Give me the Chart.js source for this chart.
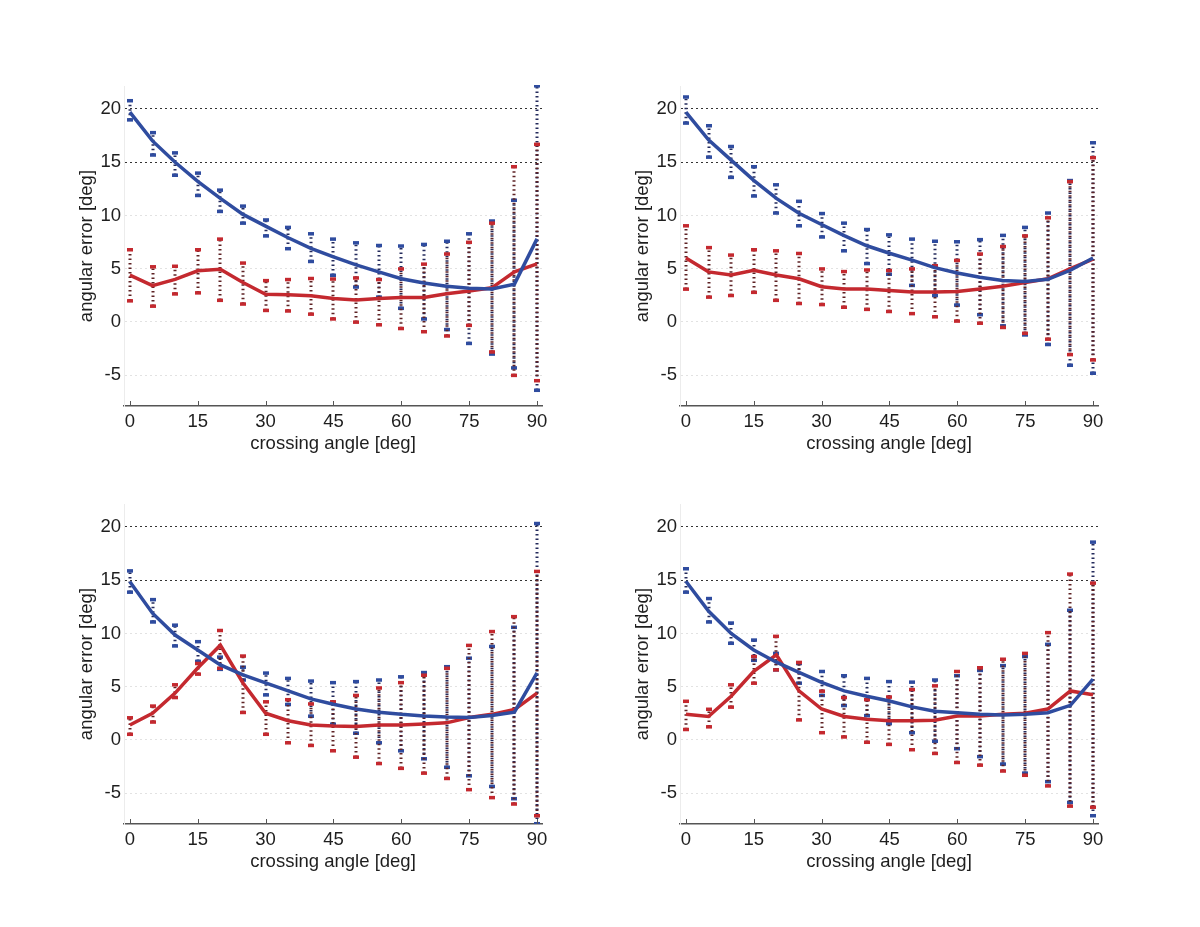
<!DOCTYPE html>
<html>
<head>
<meta charset="utf-8">
<script src="https://cdn.jsdelivr.net/npm/chart.js@4.4.0/dist/chart.umd.min.js"></script>
<style>
  body { margin: 0; background: #fff; width: 1200px; height: 927px; position: relative; overflow: hidden; }
  canvas { position: absolute; }
</style>
</head>
<body>
<canvas id="c1" width="478" height="383" style="left:76px;top:72px;width:478px;height:383px"></canvas>
<canvas id="c2" width="478" height="383" style="left:632px;top:72px;width:478px;height:383px"></canvas>
<canvas id="c3" width="478" height="383" style="left:76px;top:490px;width:478px;height:383px"></canvas>
<canvas id="c4" width="478" height="383" style="left:632px;top:490px;width:478px;height:383px"></canvas>
<script>
// crossing angles (deg) and tick labels
var angles = [0, 5, 10, 15, 20, 25, 30, 35, 40, 45, 50, 55, 60, 65, 70, 75, 80, 85, 90];
var xTicks = [0, 15, 30, 45, 60, 75, 90];
var yTicks = [-5, 0, 5, 10, 15, 20];

// top left
var p1BlueMean = [19.7, 17.0, 15.0, 13.2, 11.6, 10.1, 9.0, 7.9, 6.9, 6.1, 5.35, 4.7, 4.05, 3.65, 3.35, 3.15, 3.1, 3.55, 7.8];
var p1BlueHi   = [20.8, 17.8, 15.9, 14.0, 12.4, 10.9, 9.6, 8.9, 8.3, 7.8, 7.45, 7.2, 7.15, 7.3, 7.6, 8.3, 9.5, 11.45, 22.2];
var p1BlueLo   = [19.0, 15.7, 13.8, 11.9, 10.4, 9.3, 8.1, 6.9, 5.7, 4.4, 3.3, 2.35, 1.3, 0.3, -0.7, -2.0, -3.0, -4.3, -6.4];
var p1RedMean  = [4.4, 3.4, 4.0, 4.8, 4.95, 3.7, 2.6, 2.55, 2.45, 2.2, 2.05, 2.2, 2.3, 2.3, 2.65, 2.9, 3.2, 4.7, 5.45];
var p1RedHi    = [6.8, 5.2, 5.25, 6.8, 7.8, 5.55, 3.9, 4.0, 4.1, 4.05, 4.15, 4.0, 5.0, 5.45, 6.4, 7.5, 9.3, 14.6, 16.7];
var p1RedLo    = [2.0, 1.5, 2.65, 2.75, 2.05, 1.7, 1.1, 1.05, 0.75, 0.3, 0.0, -0.25, -0.6, -0.9, -1.3, -0.3, -2.8, -5.0, -5.5];

// top right
var p2BlueMean = [19.7, 17.1, 15.2, 13.3, 11.6, 10.2, 9.15, 8.1, 7.15, 6.45, 5.8, 5.1, 4.6, 4.2, 3.9, 3.8, 4.0, 4.85, 6.0];
var p2BlueHi   = [21.15, 18.45, 16.5, 14.6, 12.9, 11.35, 10.2, 9.3, 8.7, 8.2, 7.8, 7.6, 7.55, 7.75, 8.15, 8.9, 10.25, 13.3, 16.85];
var p2BlueLo   = [18.7, 15.5, 13.6, 11.85, 10.25, 9.05, 8.0, 6.7, 5.5, 4.5, 3.45, 2.5, 1.6, 0.7, -0.35, -1.2, -2.1, -4.05, -4.8];
var p2RedMean  = [6.0, 4.7, 4.4, 4.85, 4.4, 4.05, 3.3, 3.1, 3.1, 2.95, 2.8, 2.8, 2.85, 3.1, 3.35, 3.7, 4.05, 5.0, 5.9];
var p2RedHi    = [9.05, 7.0, 6.3, 6.8, 6.7, 6.45, 5.0, 4.75, 4.9, 4.85, 5.0, 5.3, 5.8, 6.4, 7.1, 8.1, 9.8, 13.2, 15.45];
var p2RedLo    = [3.1, 2.35, 2.5, 2.8, 2.05, 1.75, 1.65, 1.4, 1.2, 1.0, 0.8, 0.5, 0.1, -0.1, -0.5, -1.05, -1.6, -3.05, -3.55];

// bottom left
var p3BlueMean = [14.85, 11.9, 9.85, 8.45, 7.05, 6.1, 5.35, 4.6, 3.85, 3.35, 2.9, 2.6, 2.4, 2.25, 2.15, 2.1, 2.3, 2.6, 6.3];
var p3BlueHi   = [15.9, 13.2, 10.8, 9.25, 7.8, 6.85, 6.3, 5.8, 5.55, 5.4, 5.5, 5.65, 5.95, 6.35, 6.9, 7.7, 8.8, 10.6, 20.35];
var p3BlueLo   = [13.9, 11.1, 8.85, 7.4, 6.65, 5.65, 4.25, 3.35, 2.25, 1.5, 0.65, -0.25, -1.0, -1.75, -2.55, -3.35, -4.35, -5.5, -7.85];
var p3RedMean  = [1.4, 2.5, 4.4, 6.75, 8.9, 5.35, 2.5, 1.8, 1.4, 1.3, 1.25, 1.4, 1.4, 1.5, 1.6, 2.1, 2.4, 2.85, 4.4];
var p3RedHi    = [2.1, 3.2, 5.2, 7.2, 10.3, 7.9, 3.6, 3.8, 3.4, 3.6, 4.2, 4.9, 5.4, 6.1, 6.75, 8.9, 10.2, 11.6, 15.85];
var p3RedLo    = [0.55, 1.7, 4.0, 6.2, 6.75, 2.6, 0.55, -0.25, -0.5, -1.0, -1.6, -2.2, -2.65, -3.1, -3.6, -4.65, -5.4, -6.0, -7.1];

// bottom right
var p4BlueMean = [14.9, 12.1, 10.0, 8.45, 7.3, 6.35, 5.4, 4.6, 4.1, 3.65, 3.1, 2.7, 2.55, 2.4, 2.35, 2.4, 2.55, 3.25, 5.7];
var p4BlueHi   = [16.1, 13.3, 11.0, 9.4, 8.15, 7.2, 6.45, 6.05, 5.8, 5.5, 5.45, 5.65, 6.05, 6.55, 7.0, 7.85, 9.0, 12.2, 18.6];
var p4BlueLo   = [13.9, 11.1, 9.1, 7.5, 6.6, 5.35, 4.2, 3.25, 2.3, 1.55, 0.7, -0.1, -0.8, -1.55, -2.25, -3.1, -3.9, -5.85, -7.1];
var p4RedMean  = [2.4, 2.2, 4.1, 6.45, 8.0, 4.6, 2.9, 2.2, 1.95, 1.8, 1.8, 1.85, 2.25, 2.25, 2.4, 2.5, 2.9, 4.6, 4.25];
var p4RedHi    = [3.65, 2.9, 5.2, 7.85, 9.75, 7.3, 4.6, 4.0, 3.8, 4.05, 4.75, 5.1, 6.45, 6.8, 7.6, 8.15, 10.1, 15.6, 14.75];
var p4RedLo    = [1.0, 1.25, 3.1, 5.35, 6.6, 1.9, 0.7, 0.3, -0.2, -0.4, -0.9, -1.25, -2.1, -2.35, -2.9, -3.3, -4.3, -6.2, -6.3];

var BLUE = '#2f4c9f', RED = '#c4292f';
var FONT = { family: '"Liberation Sans", Arial, Helvetica, sans-serif', size: 18.5 };

// dotted range bars with small caps, plus inward ticks on the x axis
var errorBars = {
  id: 'errorBars',
  beforeDatasetsDraw: function (chart) {
    var ctx = chart.ctx, xs = chart.scales.x, ys = chart.scales.y, a = chart.chartArea;
    ctx.save();
    ctx.beginPath();
    ctx.rect(a.left, a.top - 1, a.right - a.left, a.bottom - a.top + 1);
    ctx.clip();
    chart.data.datasets.forEach(function (ds) {
      ds.lo.forEach(function (lo, i) {
        var px = Math.round(xs.getPixelForValue(angles[i]));
        var y1 = ys.getPixelForValue(lo), y2 = ys.getPixelForValue(ds.hi[i]);
        ctx.setLineDash([1.5, 3]);
        ctx.lineWidth = 3;
        ctx.strokeStyle = ds.barColor;
        ctx.beginPath();
        ctx.moveTo(px, y1);
        ctx.lineTo(px, y2);
        ctx.stroke();
        ctx.fillStyle = ds.borderColor;
        ctx.fillRect(px - 3, y1 - 1.5, 6, 3.5);
        ctx.fillRect(px - 3, y2 - 1.5, 6, 3.5);
      });
    });
    ctx.restore();

    ctx.save();
    ctx.strokeStyle = '#555';
    ctx.lineWidth = 1;
    xTicks.forEach(function (v) {
      var px = Math.round(xs.getPixelForValue(v)) + 0.5;
      ctx.beginPath();
      ctx.moveTo(px, a.bottom);
      ctx.lineTo(px, a.bottom - 5);
      ctx.stroke();
    });
    ctx.restore();
  }
};

function makePanel(id, blueMean, blueLo, blueHi, redMean, redLo, redHi) {
  function pts(arr) {
    return angles.map(function (x, i) { return { x: x, y: arr[i] }; });
  }
  return new Chart(document.getElementById(id), {
    type: 'line',
    data: {
      datasets: [
        { data: pts(blueMean), lo: blueLo, hi: blueHi, borderColor: BLUE, barColor: '#242b5c',
          borderWidth: 3.5, pointRadius: 0, tension: 0 },
        { data: pts(redMean), lo: redLo, hi: redHi, borderColor: RED, barColor: '#5e2224',
          borderWidth: 3.5, pointRadius: 0, tension: 0 }
      ]
    },
    options: {
      responsive: false,
      animation: false,
      layout: { padding: { top: 10, right: 12, left: 0, bottom: 0 } },
      plugins: { legend: { display: false }, tooltip: { enabled: false } },
      scales: {
        x: {
          type: 'linear', min: -1.3, max: 91.1,
          afterBuildTicks: function (s) { s.ticks = xTicks.map(function (v) { return { value: v }; }); },
          afterFit: function (s) { s.height = 49; },
          grid: { color: 'rgba(0,0,0,0)', drawTicks: false },
          border: { color: '#555', width: 1.5 },
          ticks: { font: FONT, color: '#1e1e1e', padding: 5, maxRotation: 0 },
          title: { display: true, text: 'crossing angle [deg]', font: FONT, color: '#1e1e1e', padding: 0 }
        },
        y: {
          min: -7.9, max: 22.15,
          afterBuildTicks: function (s) { s.ticks = yTicks.map(function (v) { return { value: v }; }); },
          afterFit: function (s) { s.width = 48; },
          grid: {
            drawTicks: false, lineWidth: 1,
            color: function (c) {
              var v = c.tick && c.tick.value;
              return (v === 20 || v === 15) ? '#333' : '#e2e2e2';
            }
          },
          border: { color: '#ececec', width: 1, dash: [2, 3] },
          ticks: { font: FONT, color: '#1e1e1e', padding: 3 },
          title: { display: true, text: 'angular error [deg]', font: FONT, color: '#1e1e1e', padding: 0 }
        }
      }
    },
    plugins: [errorBars]
  });
}

makePanel('c1', p1BlueMean, p1BlueLo, p1BlueHi, p1RedMean, p1RedLo, p1RedHi);
makePanel('c2', p2BlueMean, p2BlueLo, p2BlueHi, p2RedMean, p2RedLo, p2RedHi);
makePanel('c3', p3BlueMean, p3BlueLo, p3BlueHi, p3RedMean, p3RedLo, p3RedHi);
makePanel('c4', p4BlueMean, p4BlueLo, p4BlueHi, p4RedMean, p4RedLo, p4RedHi);
</script>
</body>
</html>
